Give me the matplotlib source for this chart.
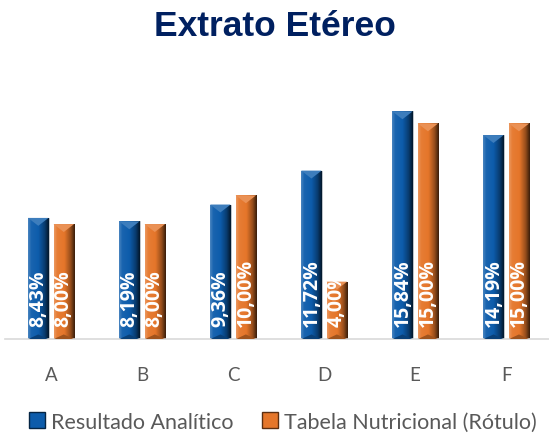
import numpy as np
import matplotlib
matplotlib.use('Agg')
import matplotlib.pyplot as plt
from matplotlib.colors import to_rgb
from matplotlib.patches import Patch, Polygon

categories = ['A', 'B', 'C', 'D', 'E', 'F']
resultado = [8.43, 8.19, 9.36, 11.72, 15.84, 14.19]
tabela = [8.00, 8.00, 10.00, 4.00, 15.00, 15.00]
series_names = ['Resultado Analítico', 'Tabela Nutricional (Rótulo)']

BLUE = '#0d5cab'
ORANGE = '#e5762a'


def shade(color, f):
    c = np.array(to_rgb(color))
    if f >= 0:
        return tuple(c + (1 - c) * f)
    return tuple(c * (1 + f))


def gradient_bar(ax, bar, color):
    x0, y0 = bar.get_x(), bar.get_y()
    w, h = bar.get_width(), bar.get_height()
    t = np.linspace(0, 1, 60)
    stops = [(0.0, 0.25), (0.15, 0.05), (0.5, 0.0), (0.8, -0.35), (1.0, -0.75)]
    xs, fs = zip(*stops)
    vals = np.interp(t, xs, fs)
    img = np.array([[shade(color, v) for v in vals]])
    im = ax.imshow(img, extent=[x0, x0 + w, y0, y0 + h], aspect='auto',
                   interpolation='bilinear', zorder=2)
    im.set_clip_path(bar)
    # bevel at top and bottom
    th = 0.55
    tri = Polygon([[x0, y0 + h], [x0 + w, y0 + h], [x0 + w / 2, y0 + h - th]],
                  closed=True, facecolor=shade(color, 0.2), edgecolor='none', zorder=3)
    ax.add_patch(tri)
    bot = Polygon([[x0, y0], [x0 + w, y0], [x0 + w / 2, y0 + th * 0.6]],
                  closed=True, facecolor=shade(color, -0.3), edgecolor='none', zorder=3)
    ax.add_patch(bot)


fig = plt.figure(figsize=(5.49, 4.35), dpi=100)
ax = fig.add_axes([0.01, 0.218, 0.995, 0.62])

x = np.arange(len(categories))
w = 0.225
off = 0.14
bars1 = ax.bar(x - off, resultado, w, color=BLUE, edgecolor='#c8c8c8', linewidth=0.6, zorder=1)
bars2 = ax.bar(x + off, tabela, w, color=ORANGE, edgecolor='#c8c8c8', linewidth=0.6, zorder=1)

for bars, vals, col in [(bars1, resultado, BLUE), (bars2, tabela, ORANGE)]:
    for b, v in zip(bars, vals):
        gradient_bar(ax, b, col)
        txt = ax.text(b.get_x() + b.get_width() / 2, 0.95, f'{v:.2f}%'.replace('.', ','),
                      rotation=90, ha='center', va='bottom', color='white',
                      fontsize=14, fontweight='bold', family='Open Sans', zorder=4)
        txt.set_clip_path(b)

ax.set_xlim(-0.5, 5.5)
ax.set_ylim(0, 18.75)
ax.set_yticks([])
ax.set_xticks(x)
ax.set_xticklabels(categories, fontsize=13.5, color='#595959', family='Lato')
ax.tick_params(axis='x', length=0, pad=19)
for s in ['top', 'right', 'left']:
    ax.spines[s].set_visible(False)
ax.spines['bottom'].set_color('#d9d9d9')
ax.spines['bottom'].set_linewidth(1.2)

fig.text(0.5, 0.938, 'Extrato Etéreo', ha='center', va='center', fontsize=25.5,
         fontweight='heavy', color='#002060', family='Liberation Sans')

handles = [Patch(facecolor=BLUE, edgecolor=shade(BLUE, -0.6)),
           Patch(facecolor=ORANGE, edgecolor=shade(ORANGE, -0.6))]
fig.legend(handles, series_names, loc='center', bbox_to_anchor=(0.515, 0.028),
           ncol=2, frameon=False, prop={'family': 'Lato', 'size': 15.5},
           labelcolor='#595959', handlelength=0.75, handleheight=0.75,
           handletextpad=0.3, columnspacing=1.3)

fig.savefig('out.png', dpi=100)
